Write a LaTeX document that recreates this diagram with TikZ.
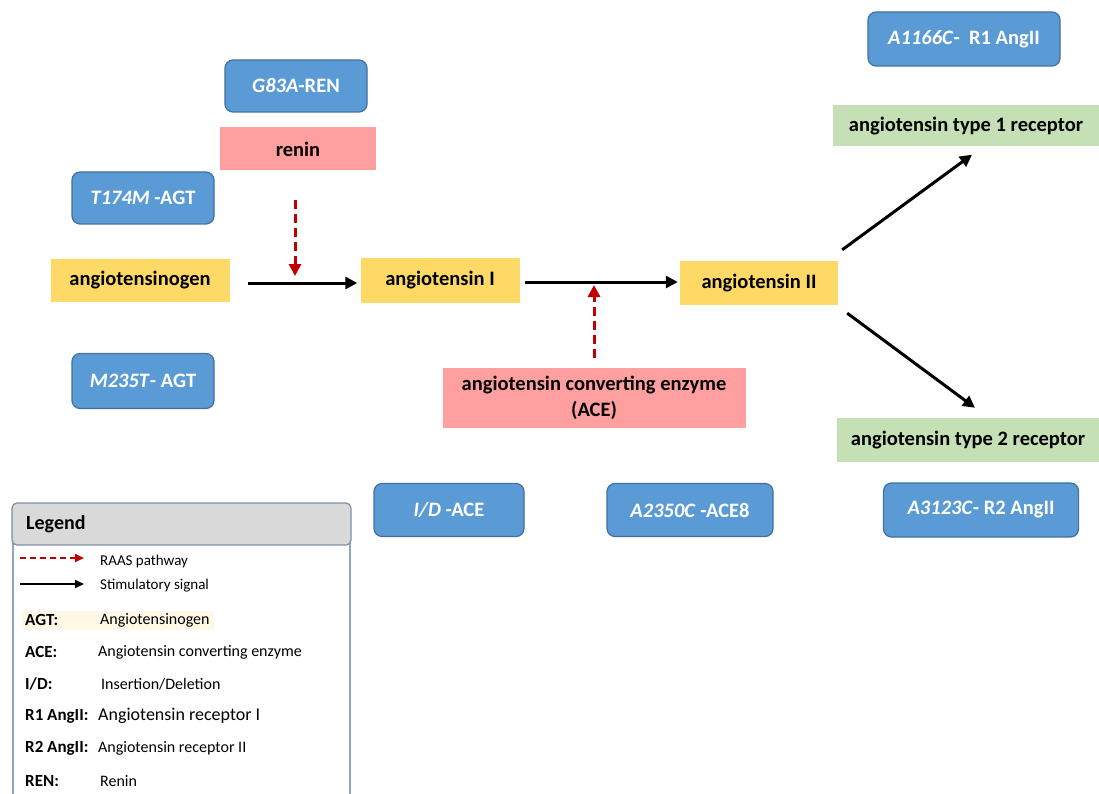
\documentclass[tikz,border=0pt]{standalone}
\usepackage{fontspec}
\setmainfont{Carlito}
\usetikzlibrary{arrows.meta,calc}
\definecolor{blueF}{HTML}{5B9BD5}
\definecolor{blueD}{HTML}{41719C}
\definecolor{yelF}{HTML}{FFD966}
\definecolor{pinkF}{HTML}{FF9F9F}
\definecolor{greenF}{HTML}{C5E0B4}
\definecolor{raasR}{HTML}{C00000}
\definecolor{legB}{HTML}{8EA9C8}
\definecolor{legH}{HTML}{D9D9D9}
\definecolor{legHD}{HTML}{7F8FA6}
\definecolor{cream}{HTML}{FFF8E6}
\tikzset{
  mainfont/.style={font=\bfseries\fontsize{20.5}{24}\selectfont},
  bluebox/.style={mainfont, rounded corners=8pt, fill=blueF, draw=blueD, line width=1.2pt, text=white, inner sep=0pt},
  yelbox/.style={mainfont, fill=yelF, inner sep=0pt, text=black},
  pinkbox/.style={mainfont, fill=pinkF, inner sep=0pt, text=black},
  greenbox/.style={mainfont, fill=greenF, inner sep=0pt, text=black},
  stim/.style={line width=3pt, -{Triangle[length=12pt,width=12pt]}},
  raas/.style={line width=3pt, raasR, dash pattern=on 9pt off 5pt, -{Triangle[length=12pt,width=12pt]}},
  legstim/.style={line width=2pt, -{Triangle[length=9pt,width=8pt]}},
  legraas/.style={line width=2pt, raasR, dash pattern=on 6pt off 4pt, -{Triangle[length=9pt,width=8pt]}},
  leglab/.style={font=\bfseries\fontsize{17}{20}\selectfont, anchor=west, inner sep=0pt},
  legtxt/.style={font=\fontsize{16}{19}\selectfont, anchor=west, inner sep=0pt},
}
\begin{document}
\begin{tikzpicture}[x=1pt,y=-1pt]
\useasboundingbox (0,0) rectangle (1099,794);
\fill[white] (0,0) rectangle (1099,794);

% mutation boxes
\node[bluebox, minimum width=142pt, minimum height=52pt] (g83a) at (296,86) {\textit{G83A}-REN};
\node[bluebox, minimum width=142pt, minimum height=52pt] (t174m) at (143,198) {\textit{T174M} -AGT};
\node[bluebox, minimum width=142pt, minimum height=55pt] (m235t) at (143,381) {\textit{M235T}- AGT};
\node[bluebox, minimum width=192pt, minimum height=54pt] (a1166c) at (964,39) {\textit{A1166C}-\ \ R1 AngII};
\node[bluebox, minimum width=195pt, minimum height=54pt] (a3123c) at (981,510) {\textit{A3123C}- R2 AngII};
\node[bluebox, minimum width=150pt, minimum height=53pt] (idace) at (449,510) {\textit{I/D} -ACE};
\node[bluebox, minimum width=166pt, minimum height=53pt] (a2350c) at (690,510) {\textit{A2350C} -ACE8};

% pathway boxes
\node[pinkbox, minimum width=156pt, minimum height=43pt] (renin) at (298,149) {renin};
\node[yelbox, minimum width=179pt, minimum height=43pt] (ago) at (140,280) {angiotensinogen};
\node[yelbox, minimum width=159pt, minimum height=45pt] (ang1) at (440,280) {angiotensin I};
\node[yelbox, minimum width=158pt, minimum height=44pt] (ang2) at (759,283) {angiotensin II};
\node[pinkbox, minimum width=303pt, minimum height=60pt, align=center] (ace) at (594,398) {angiotensin converting enzyme\\[2pt](ACE)};
\node[greenbox, minimum width=267pt, minimum height=41pt] (at1r) at (966,126) {angiotensin type 1 receptor};
\node[greenbox, minimum width=263pt, minimum height=44pt] (at2r) at (968,440) {angiotensin type 2 receptor};

% connectors
\coordinate (j1) at (295,276);
\coordinate (j2) at (594,285);
\draw[stim, shorten <=18pt, shorten >=3pt] ($(ago.east)+(0,3)$) -- ($(ang1.west)+(0,3)$);
\draw[stim, shorten <=5pt, shorten >=2pt] ($(ang1.east)+(0,2)$) -- ($(ang2.west)+(0,-1)$);
\draw[raas] ($(renin.south)+(-3,29)$) -- (j1);
\draw[raas] ($(ace.north)+(0,-10)$) -- (j2);
\coordinate (d1s) at ($(ang2.north east)+(4,-11)$);
\coordinate (d1e) at ($(at1r.south)+(6,8)$);
\coordinate (d2s) at ($(ang2.south east)+(9,8)$);
\coordinate (d2e) at ($(at2r.north)+(7,-10)$);
\draw[stim] (d1s) -- (d1e);
\draw[stim] (d2s) -- (d2e);

% legend
\draw[legB, line width=1.2pt] (13,540) -- (13,800) (350,540) -- (350,800);
\draw[legB, line width=1.2pt] (13,544) -- (350,544);
\node[draw=legHD, fill=legH, line width=1.2pt, rounded corners=5pt, minimum width=339pt, minimum height=42pt, inner sep=0pt] (leghead) at (181.5,524) {};
\node[font=\bfseries\fontsize{20}{24}\selectfont, anchor=west, inner sep=0pt] (legtitle) at (26,524) {Legend};

\coordinate (lr1) at (20,558);
\coordinate (lr2) at (84,558);
\draw[legraas] (lr1) -- (lr2);
\node[legtxt, font=\fontsize{15}{18}\selectfont] (t1) at (100,561) {RAAS pathway};
\coordinate (ls1) at (20,584);
\coordinate (ls2) at (84,584);
\draw[legstim] (ls1) -- (ls2);
\node[legtxt, font=\fontsize{15}{18}\selectfont] (t2) at (100,586) {Stimulatory signal};

\fill[cream] (22,611) rectangle (214,630);
\node[leglab] (l3) at (25,620) {AGT:};
\node[legtxt] (t3) at (100,620) {Angiotensinogen};
\node[leglab] (l4) at (25,652) {ACE:};
\node[legtxt] (t4) at (98,652) {Angiotensin converting enzyme};
\node[leglab] (l5) at (25,684) {I/D:};
\node[legtxt] (t5) at (101,684) {Insertion/Deletion};
\node[leglab] (l6) at (25,716) {R1 AngII:};
\node[legtxt, font=\fontsize{18}{21}\selectfont] (t6) at (98,716) {Angiotensin receptor I};
\node[leglab] (l7) at (25,748) {R2 AngII:};
\node[legtxt] (t7) at (98,748) {Angiotensin receptor II};
\node[leglab] (l8) at (25,781) {REN:};
\node[legtxt] (t8) at (100,781) {Renin};
\end{tikzpicture}
\end{document}
